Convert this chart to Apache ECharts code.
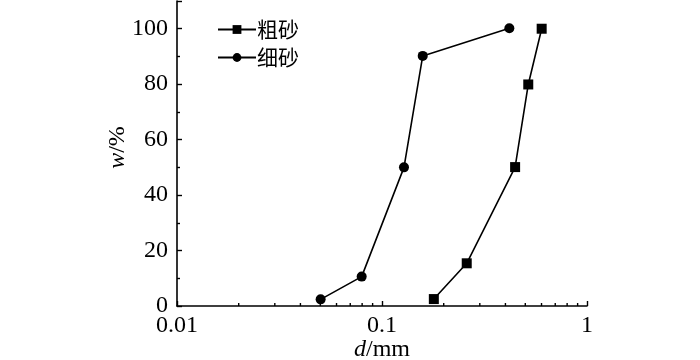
<!DOCTYPE html>
<html><head><meta charset="utf-8">
<script src="https://cdn.jsdelivr.net/npm/echarts@6/dist/echarts.min.js"></script>
<style>html,body{margin:0;padding:0;background:#fff}#c{width:700px;height:360px}</style>
</head><body><div id="c"></div>
<script>
const coarseName = '粗砂';
const fineName = '细砂';
const coarseD = [0.179, 0.259, 0.446, 0.517, 0.601];
const coarseW = [2.5, 15.4, 50.1, 79.9, 100];
const fineD = [0.0502, 0.0796, 0.128, 0.158, 0.418];
const fineW = [2.4, 10.6, 50, 90.2, 100.2];
const xMinorTicks = [0.02,0.03,0.04,0.05,0.06,0.07,0.08,0.09,0.2,0.3,0.4,0.5,0.6,0.7,0.8,0.9];
const xTickLabels = {'0.01':'0.01','0.1':'0.1','1':'1'};

const serif = 'Liberation Serif, Times New Roman, Times, serif';
const chart = echarts.init(document.getElementById('c'), null, {renderer:'canvas'});
const zip = (a,b)=>a.map((v,i)=>[v,b[i]]);
chart.setOption({
  animation:false,
  grid:{left:177,right:113,top:1,bottom:54,containLabel:false,outerBoundsMode:'none'},
  legend:{
    orient:'vertical', left:217, top:19, padding:0, itemWidth:38, itemHeight:11, itemGap:7,
    textStyle:{fontFamily:'Noto Sans CJK SC',fontSize:21,color:'#000',padding:[0,0,0,-4]},
    data:[coarseName, fineName]
  },
  xAxis:{
    type:'log', min:0.01, max:1, logBase:10,
    name:'{i|d}/mm', nameLocation:'middle', nameGap:32, nameMoveOverlap:false,
    nameTextStyle:{fontFamily:serif,fontSize:24,color:'#000',rich:{i:{fontFamily:serif,fontSize:24,fontStyle:'italic',color:'#000'}}},
    axisLine:{lineStyle:{color:'#000',width:1.6}},
    axisTick:{inside:true,length:5,lineStyle:{color:'#000',width:1.4}},
    axisLabel:{fontFamily:serif,fontSize:24,color:'#000',margin:8,formatter:v=>xTickLabels[String(v)]||String(v)},
    splitLine:{show:false}
  },
  yAxis:{
    type:'value', min:0, max:110, interval:20,
    name:'{i|w}/%', nameLocation:'middle', nameGap:47, nameRotate:90, nameMoveOverlap:false,
    nameTextStyle:{fontFamily:serif,fontSize:24,color:'#000',padding:[0,0,0,12],rich:{i:{fontFamily:serif,fontSize:24,fontStyle:'italic',color:'#000'}}},
    axisLine:{show:true,lineStyle:{color:'#000',width:1.6}},
    axisTick:{show:true,inside:true,length:5,lineStyle:{color:'#000',width:1.4}},
    minorTick:{show:true,splitNumber:2,length:3,lineStyle:{color:'#000',width:1.4}},
    axisLabel:{fontFamily:serif,fontSize:24,color:'#000',margin:9,
      formatter:v=>(v%20===0&&v<=100)?String(v):''},
    splitLine:{show:false}
  },
  series:[
    {name:coarseName,type:'line',data:zip(coarseD,coarseW),symbol:'rect',symbolSize:10,
     itemStyle:{color:'#000'},lineStyle:{color:'#000',width:1.6},z:3},
    {name:fineName,type:'line',data:zip(fineD,fineW),symbol:'circle',symbolSize:10,
     itemStyle:{color:'#000'},lineStyle:{color:'#000',width:1.6},z:3},
    {type:'custom',silent:true,data:xMinorTicks.map(v=>[v,0]),clip:false,z:4,
     renderItem:(params,api)=>{
       const p=api.coord([api.value(0),0]);
       return {type:'line',shape:{x1:p[0],y1:p[1],x2:p[0],y2:p[1]-3},style:{stroke:'#000',lineWidth:1.4}};
     }}
  ]
});
</script></body></html>
